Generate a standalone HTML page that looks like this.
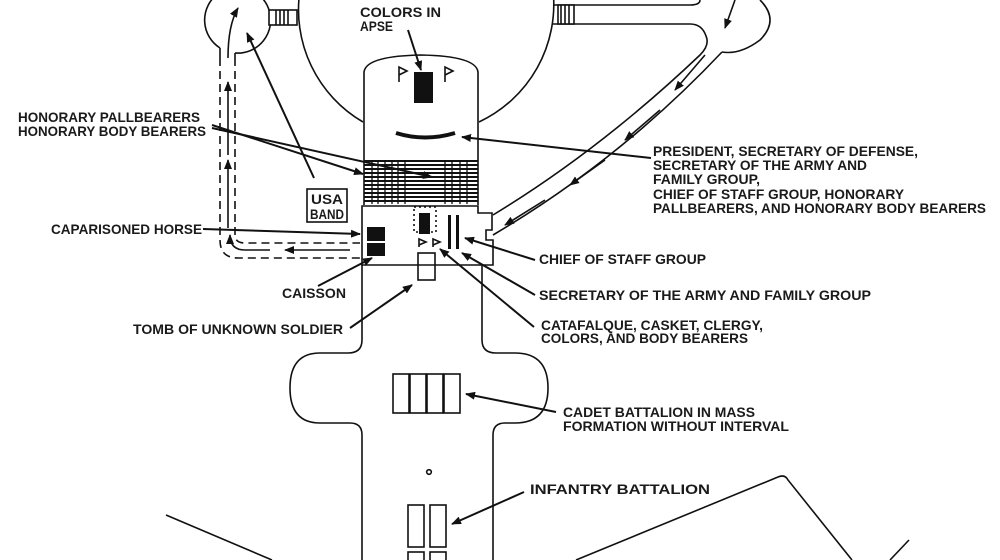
<!DOCTYPE html>
<html><head><meta charset="utf-8"><style>
html,body{margin:0;padding:0;background:#fff;}
svg{display:block}
text{font-family:"Liberation Sans",sans-serif;font-weight:bold;font-size:14px;fill:#1a1a1a}
</style></head><body>
<svg width="1000" height="560" viewBox="0 0 1000 560" xmlns="http://www.w3.org/2000/svg">
<defs>
<marker id="a" markerWidth="10" markerHeight="8" refX="9" refY="4" orient="auto" markerUnits="userSpaceOnUse"><path d="M0,0 L10,4 L0,8 Z" fill="#111"/></marker>
<pattern id="h" width="4" height="4" patternUnits="userSpaceOnUse"><rect width="4" height="2" fill="#111"/></pattern>
</defs>
<g fill="none" stroke="#111" stroke-width="1.6">
<!-- big circle -->
<path d="M363,122 A130,130 0 0 1 300,-10"/>
<path d="M479,122 A130,130 0 0 0 553,-10"/>
<!-- small left circle -->
<path d="M220,48 A33,33 0 1 1 235,53"/>
<line x1="220" y1="48" x2="220" y2="58"/><line x1="235" y1="53" x2="235" y2="58"/>
<!-- left connector -->
<rect x="269" y="10" width="28" height="15" fill="#fff"/>
<line x1="276" y1="10" x2="276" y2="25"/><line x1="280" y1="10" x2="280" y2="25"/><line x1="284" y1="10" x2="284" y2="25"/><line x1="288" y1="10" x2="288" y2="25"/>
<!-- right connector & road -->
<path d="M553,5 L690,5 Q700,5 700,0"/>
<path d="M553,24 L690,24 Q702,24 706,36 Q710,45 700,55 Q600,150 493,215"/>
<path d="M722,52 Q620,160 493,235"/>
<path d="M722,52 Q740,55 760,40 Q780,20 760,0"/>
<rect x="558" y="5" width="16" height="19" fill="#fff"/>
<line x1="561" y1="5" x2="561" y2="24"/><line x1="565" y1="5" x2="565" y2="24"/><line x1="569" y1="5" x2="569" y2="24"/>
<line x1="735" y1="0" x2="725" y2="28" marker-end="url(#a)"/>
<line x1="705" y1="55" x2="675" y2="90" marker-end="url(#a)"/>
<line x1="660" y1="110" x2="625" y2="140" marker-end="url(#a)"/>
<line x1="605" y1="160" x2="570" y2="185" marker-end="url(#a)"/>
<line x1="545" y1="200" x2="505" y2="225" marker-end="url(#a)"/>
<!-- dashed left path -->
<path d="M220,58 L220,240 Q220,258 238,258 L360,258" stroke-dasharray="8,5"/>
<path d="M235,58 L235,235 Q235,243 245,243 L360,243" stroke-dasharray="8,5"/>
<path d="M228,58 Q228,25 238,8" marker-end="url(#a)"/>
<line x1="228" y1="155" x2="228" y2="82" marker-end="url(#a)"/>
<line x1="228" y1="228" x2="228" y2="160" marker-end="url(#a)"/>
<path d="M270,250 L245,250 Q230,250 230,235" marker-end="url(#a)"/>
<line x1="350" y1="250" x2="285" y2="250" marker-end="url(#a)"/>
<!-- apse building -->
<path d="M364,205 L364,72 Q366,56 421,55 Q476,56 478,72 L478,205" fill="#fff"/>
<rect x="364" y="160" width="114" height="44" fill="url(#h)" stroke="none"/>
<g stroke-width="1.3"><line x1="372" y1="160" x2="372" y2="204"/><line x1="378" y1="160" x2="378" y2="204"/><line x1="385" y1="160" x2="385" y2="204"/><line x1="392" y1="160" x2="392" y2="204"/><line x1="398" y1="160" x2="398" y2="204"/><line x1="405" y1="160" x2="405" y2="204"/><line x1="445" y1="160" x2="445" y2="204"/><line x1="452" y1="160" x2="452" y2="204"/><line x1="460" y1="160" x2="460" y2="204"/><line x1="467" y1="160" x2="467" y2="204"/></g>
<path d="M362,206 L478,206 L478,213 L492,213 L492,230 L486,230 L486,240 L493,240 L493,265 L362,265 Z" fill="#fff"/>
<!-- stem -->
<path d="M362,265 L362,340 Q362,353 348,353 L320,353 Q290,353 290,388 Q290,423 320,423 L350,423 Q362,423 362,435 L362,560"/>
<path d="M482,265 L482,340 Q482,353 496,353 L515,353 Q548,353 548,388 Q548,423 515,423 L505,423 Q493,423 493,435 L493,560"/>
<!-- flags apse -->
<path d="M399,82 L399,67 L407,71 L399,75"/><path d="M445,82 L445,67 L453,71 L445,75"/>
<path d="M396,133 Q425,142 455,133" stroke-width="4"/>
<!-- usa band -->
<rect x="307" y="189" width="40" height="33"/>
<rect x="414" y="207" width="22" height="25" stroke-dasharray="2,3"/>
<path d="M419,247 L419,239 L426,242 L419,245"/><path d="M433,247 L433,239 L440,242 L433,245"/>
<rect x="418" y="253" width="17" height="27"/>
<!-- cadets -->
<rect x="393" y="374" width="16" height="39"/><rect x="410" y="374" width="16" height="39"/><rect x="427" y="374" width="16" height="39"/><rect x="444" y="374" width="16" height="39"/>
<rect x="408" y="505" width="16" height="42"/><rect x="430" y="505" width="16" height="42"/>
<rect x="408" y="552" width="16" height="20"/><rect x="430" y="552" width="16" height="20"/>
<circle cx="429" cy="472" r="2.3"/>
<!-- bottom lines -->
<line x1="166" y1="515" x2="272" y2="560"/>
<path d="M576,560 L778,477 Q785,474 788,480 L852,560"/>
<line x1="909" y1="540" x2="890" y2="560"/>
<!-- leader arrows -->
<g stroke-width="2">
<line x1="408" y1="30" x2="421" y2="70" marker-end="url(#a)"/>
<line x1="212" y1="125" x2="363" y2="174" marker-end="url(#a)"/>
<line x1="212" y1="128" x2="432" y2="177" marker-end="url(#a)"/>
<line x1="314" y1="178" x2="247" y2="33" marker-end="url(#a)"/>
<line x1="651" y1="158" x2="462" y2="137" marker-end="url(#a)"/>
<line x1="203" y1="229" x2="360" y2="234" marker-end="url(#a)"/>
<line x1="535" y1="260" x2="465" y2="238" marker-end="url(#a)"/>
<line x1="535" y1="295" x2="462" y2="253" marker-end="url(#a)"/>
<line x1="534" y1="327" x2="440" y2="249" marker-end="url(#a)"/>
<line x1="318" y1="286" x2="372" y2="258" marker-end="url(#a)"/>
<line x1="350" y1="328" x2="412" y2="285" marker-end="url(#a)"/>
<line x1="556" y1="412" x2="466" y2="394" marker-end="url(#a)"/>
<line x1="524" y1="492" x2="452" y2="524" marker-end="url(#a)"/>
</g>
</g>
<g fill="#111">
<rect x="414" y="72" width="19" height="31"/>
<rect x="419" y="213" width="11" height="21"/>
<rect x="448" y="215" width="3" height="34"/><rect x="456" y="215" width="3" height="34"/>
<rect x="367" y="227" width="18" height="14"/><rect x="367" y="243" width="18" height="13"/>
</g>
<text x="360" y="17" textLength="81" lengthAdjust="spacingAndGlyphs">COLORS IN</text>
<text x="360" y="31" textLength="33" lengthAdjust="spacingAndGlyphs">APSE</text>
<text x="18" y="122" textLength="182" lengthAdjust="spacingAndGlyphs">HONORARY PALLBEARERS</text>
<text x="18" y="136" textLength="188" lengthAdjust="spacingAndGlyphs">HONORARY BODY BEARERS</text>
<text x="311" y="204" textLength="32" lengthAdjust="spacingAndGlyphs">USA</text>
<text x="310" y="219" textLength="34" lengthAdjust="spacingAndGlyphs">BAND</text>
<text x="653" y="156" textLength="265" lengthAdjust="spacingAndGlyphs">PRESIDENT, SECRETARY OF DEFENSE,</text>
<text x="653" y="170" textLength="214" lengthAdjust="spacingAndGlyphs">SECRETARY OF THE ARMY AND</text>
<text x="653" y="184" textLength="107" lengthAdjust="spacingAndGlyphs">FAMILY GROUP,</text>
<text x="653" y="199" textLength="251" lengthAdjust="spacingAndGlyphs">CHIEF OF STAFF GROUP, HONORARY</text>
<text x="653" y="213" textLength="333" lengthAdjust="spacingAndGlyphs">PALLBEARERS, AND HONORARY BODY BEARERS</text>
<text x="51" y="234" textLength="151" lengthAdjust="spacingAndGlyphs">CAPARISONED HORSE</text>
<text x="539" y="264" textLength="167" lengthAdjust="spacingAndGlyphs">CHIEF OF STAFF GROUP</text>
<text x="282" y="298" textLength="64" lengthAdjust="spacingAndGlyphs">CAISSON</text>
<text x="539" y="300" textLength="332" lengthAdjust="spacingAndGlyphs">SECRETARY OF THE ARMY AND FAMILY GROUP</text>
<text x="133" y="334" textLength="210" lengthAdjust="spacingAndGlyphs">TOMB OF UNKNOWN SOLDIER</text>
<text x="541" y="330" textLength="222" lengthAdjust="spacingAndGlyphs">CATAFALQUE, CASKET, CLERGY,</text>
<text x="541" y="343" textLength="207" lengthAdjust="spacingAndGlyphs">COLORS, AND BODY BEARERS</text>
<text x="563" y="417" textLength="192" lengthAdjust="spacingAndGlyphs">CADET BATTALION IN MASS</text>
<text x="563" y="431" textLength="226" lengthAdjust="spacingAndGlyphs">FORMATION WITHOUT INTERVAL</text>
<text x="530" y="494" textLength="180" lengthAdjust="spacingAndGlyphs">INFANTRY BATTALION</text>
</svg>
</body></html>
